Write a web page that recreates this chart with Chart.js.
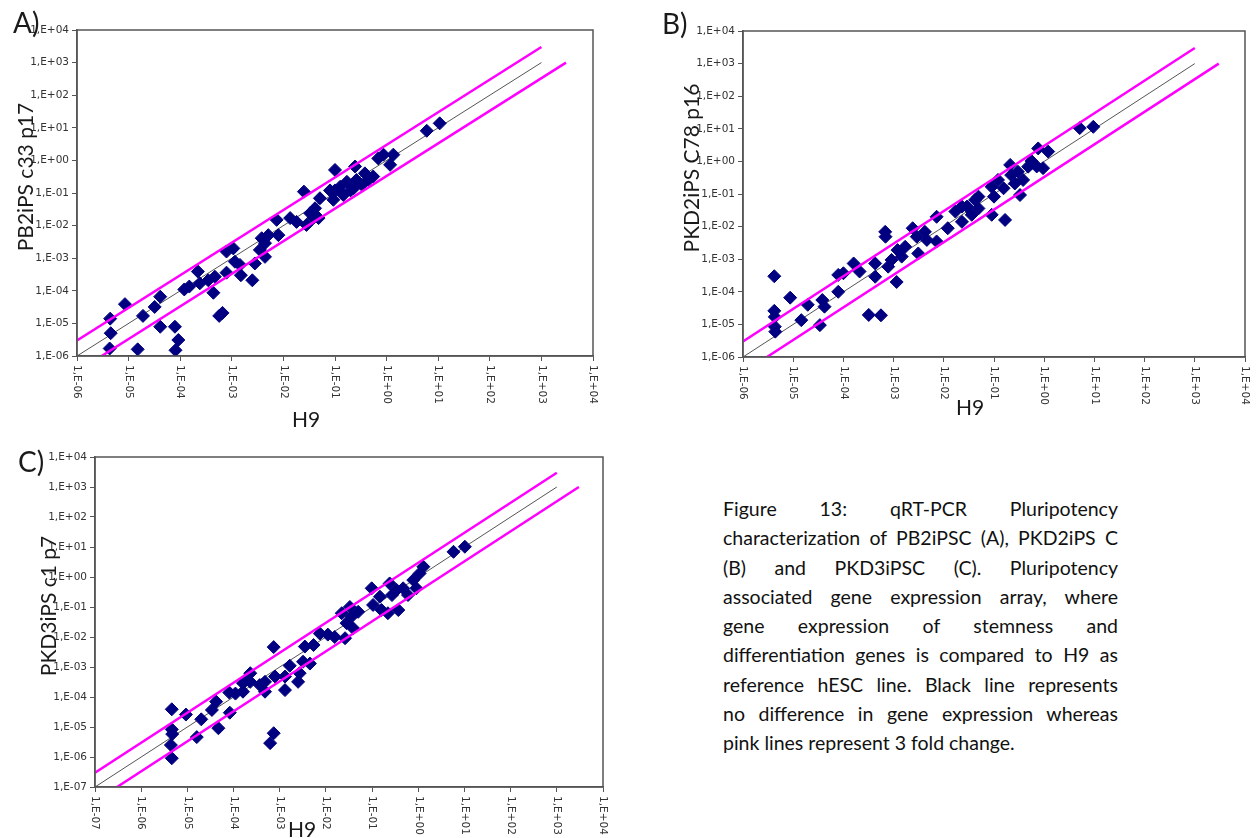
<!DOCTYPE html>
<html>
<head>
<meta charset="utf-8">
<script src="https://cdn.jsdelivr.net/npm/chart.js@4.4.1/dist/chart.umd.min.js"></script>
<style>
  body { margin: 0; background: #fff; width: 1256px; height: 838px; position: relative; overflow: hidden; }
  canvas { position: absolute; }
  #caption { position: absolute; left: 723px; top: 494px; width: 395px; font-family: Lato, sans-serif; font-size: 19.5px; line-height: 29.3px; color: #111; }
  #caption .ln { text-align: justify; text-align-last: justify; }
  #caption .ln.last { text-align: left; text-align-last: left; }
</style>
</head>
<body>
<canvas id="chartA" width="610" height="430" style="left:0;top:0"></canvas>
<canvas id="chartB" width="616" height="430" style="left:640px;top:0"></canvas>
<canvas id="chartC" width="620" height="408" style="left:0;top:430px"></canvas>
<div id="caption">
  <div class="ln">Figure 13: qRT-PCR Pluripotency</div>
  <div class="ln">characterization of PB2iPSC (A), PKD2iPS C</div>
  <div class="ln">(B) and PKD3iPSC (C). Pluripotency</div>
  <div class="ln">associated gene expression array, where</div>
  <div class="ln">gene expression of stemness and</div>
  <div class="ln">differentiation genes is compared to H9 as</div>
  <div class="ln">reference hESC line. Black line represents</div>
  <div class="ln">no difference in gene expression whereas</div>
  <div class="ln last">pink lines represent 3 fold change.</div>
</div>
<script>
// tick labels (Excel style), values parsed from them
const ticksAB = ["1,E-06", "1,E-05", "1,E-04", "1,E-03", "1,E-02", "1,E-01", "1,E+00", "1,E+01", "1,E+02", "1,E+03", "1,E+04"];
const ticksC = ["1,E-07", "1,E-06", "1,E-05", "1,E-04", "1,E-03", "1,E-02", "1,E-01", "1,E+00", "1,E+01", "1,E+02", "1,E+03", "1,E+04"];

const foldChange = 3;
const lineEnd = 1e3;

// A) H9 vs PB2iPS c33 p17
const h9A = [4.4e-6, 4.5e-6, 4.3e-6, 8.5e-6, 1.9e-5, 1.5e-5, 3.2e-5, 4.1e-5, 4.1e-5, 7.9e-5, 9.2e-5, 8.1e-5,
  1.2e-4, 1.5e-4, 2.2e-4, 2.4e-4, 3.5e-4, 4.7e-4, 4.4e-4, 6.6e-4, 5.7e-4, 7.9e-4, 7.9e-4, 1.07e-3, 1.15e-3,
  1.44e-3, 1.5e-3, 2.5e-3, 2.8e-3, 3.5e-3, 4.4e-3, 3.8e-3, 5.1e-3, 8e-3, 7.4e-3, 1.35e-2, 1.8e-2, 2.5e-2,
  2.8e-2, 3.3e-2, 3.8e-2, 4.1e-2, 5.1e-2, 4.8e-2, 9.3e-2, 0.1, 0.1, 0.126, 0.145, 0.17, 0.2, 0.245, 0.26,
  0.33, 0.38, 0.44, 0.55, 0.69, 0.87, 1.17, 1.35, 6.0, 10.7, 0.08, 0.23, 4.4e-3];
const ipsA = [1.4e-5, 5e-6, 1.7e-6, 3.9e-5, 1.7e-5, 1.6e-6, 3.2e-5, 6.6e-5, 7.9e-6, 7.9e-6, 3.1e-6, 1.5e-6,
  1.1e-4, 1.35e-4, 3.9e-4, 1.7e-4, 2.1e-4, 2.7e-4, 8.7e-5, 2.1e-5, 1.7e-5, 3.6e-4, 1.6e-3, 2e-3, 7.8e-4,
  6.2e-4, 3e-4, 2.1e-4, 6.9e-4, 1.8e-3, 1.1e-3, 4.1e-3, 5.1e-3, 5.1e-3, 1.5e-2, 1.7e-2, 1.3e-2, 0.11,
  1.05e-2, 2.4e-2, 1.7e-2, 3.4e-2, 6.9e-2, 1.7e-2, 6.2e-2, 0.12, 0.51, 0.155, 0.087, 0.22, 0.12, 0.65, 0.25,
  0.18, 0.40, 0.25, 0.32, 1.15, 1.5, 0.73, 1.5, 8.1, 13.7, 0.12, 0.14, 2.9e-3];

// B) H9 vs PKD2iPS C78 p16
const h9B = [4.2e-6, 4.2e-6, 4.3e-6, 4.3e-6, 4.4e-6, 8.7e-6, 1.45e-5, 1.95e-5, 3.4e-5, 3.8e-5, 4.2e-5, 7.9e-5,
  7.9e-5, 1e-4, 1.6e-4, 2.1e-4, 3.2e-4, 5.6e-4, 4.3e-4, 4.3e-4, 6.8e-4, 6.9e-4, 7.8e-4, 1.15e-3, 9.1e-4,
  1.2e-3, 1.7e-3, 1.45e-3, 2.4e-3, 2.9e-3, 3.1e-3, 4.2e-3, 4.6e-3, 7.2e-3, 7.2e-3, 1.2e-2, 1.7e-2, 2.3e-2,
  2.9e-2, 3.6e-2, 4.2e-2, 4.9e-2, 9e-2, 0.166, 9e-2, 0.1, 0.12, 0.155, 0.21, 0.22, 0.26, 0.3, 0.33, 0.38,
  0.56, 0.71, 0.76, 0.95, 1.2, 5.1, 9.5, 2.3e-2, 4.9e-2, 0.48];
const ipsB = [3e-4, 2.6e-5, 1.7e-5, 8.5e-6, 6e-6, 6.6e-5, 1.35e-5, 4e-5, 9.5e-6, 5.6e-5, 3.5e-5, 1e-4,
  3.3e-4, 3.7e-4, 7.4e-4, 4.2e-4, 1.95e-5, 1.9e-5, 2.9e-4, 7.4e-4, 6.9e-3, 4.9e-3, 5.9e-4, 2e-4, 9.5e-4,
  1.9e-3, 2.4e-3, 1.2e-3, 8.9e-3, 4.9e-3, 1.5e-3, 6.9e-3, 3.9e-3, 2e-2, 3.5e-3, 8.9e-3, 2.9e-2, 1.4e-2,
  4.1e-2, 2.3e-2, 6.6e-2, 3.6e-2, 2.3e-2, 1.6e-2, 0.166, 8.3e-2, 0.27, 0.15, 0.78, 0.38, 0.21, 0.48, 9.3e-2, 0.27,
  1.02, 0.7, 2.5, 0.62, 2.0, 10.5, 11.5, 4.1e-2, 8.3e-2, 0.69];

// C) H9 vs PKD3iPS c1 p7
const h9C = [4.6e-6, 4.6e-6, 4.7e-6, 4.4e-6, 4.6e-6, 9.3e-6, 1.6e-5, 2e-5, 3.4e-5, 4.2e-5, 4.7e-5, 8.3e-5,
  8.1e-5, 1.1e-4, 1.6e-4, 1.8e-4, 2.3e-4, 2.3e-4, 3.7e-4, 4.8e-4, 4.8e-4, 6.2e-4, 7.4e-4, 7.4e-4, 7.9e-4,
  1.3e-3, 1.3e-3, 1.65e-3, 2.5e-3, 2.7e-3, 3.2e-3, 3.5e-3, 4.5e-3, 5.4e-3, 7.4e-3, 1.1e-2, 1.55e-2, 2.2e-2,
  2.6e-2, 2.8e-2, 3.6e-2, 3.9e-2, 5e-2, 9.8e-2, 0.105, 0.148, 0.16, 0.22, 0.24, 0.27, 0.37, 0.34, 0.47,
  0.6, 0.78, 0.91, 1.07, 1.29, 5.8, 10.2, 3.3e-2, 1.6e-4];
const ipsC = [3.9e-5, 8.3e-6, 5.8e-6, 2.5e-6, 9.1e-7, 2.6e-5, 4.6e-6, 1.8e-5, 3.7e-5, 7e-5, 9.1e-6, 3e-5,
  1.4e-4, 1.3e-4, 1.5e-4, 3.7e-4, 6.2e-4, 3.2e-4, 2.5e-4, 1.5e-4, 3.2e-4, 2.9e-6, 6.2e-6, 4.6e-3, 4.8e-4,
  1.7e-4, 4.8e-4, 1.1e-3, 3.2e-4, 6.2e-4, 1.5e-3, 4.8e-3, 1.3e-3, 5.4e-3, 1.3e-2, 1.2e-2, 1.0e-2, 6.2e-2,
  9.1e-3, 2.9e-2, 4.8e-2, 1.95e-2, 6.9e-2, 0.42, 0.117, 0.22, 7.9e-2, 6.2e-2, 0.61, 0.25, 7.9e-2, 0.37, 0.42,
  0.25, 0.79, 0.42, 1.32, 2.2, 6.9, 10.2, 0.10, 2.9e-4];

function tickValue(label) {
  return parseFloat(label.replace(",E", "e"));
}

const panelDecor = {
  id: "panelDecor",
  afterDraw(chart, args, o) {
    const { ctx, chartArea: a, scales: { x, y } } = chart;
    ctx.save();
    ctx.strokeStyle = "#555";
    ctx.lineWidth = 1.5;
    ctx.strokeRect(a.left, a.top, a.right - a.left, a.bottom - a.top);

    // tick labels
    ctx.fillStyle = "#333";
    ctx.font = '10.5px "DejaVu Sans", sans-serif';
    ctx.textAlign = "right";
    ctx.textBaseline = "middle";
    o.ticks.forEach(t => ctx.fillText(t, a.left - 8, y.getPixelForValue(tickValue(t))));
    ctx.textAlign = "left";
    o.ticks.forEach(t => {
      ctx.save();
      ctx.translate(x.getPixelForValue(tickValue(t)), a.bottom + 9);
      ctx.rotate(Math.PI / 2);
      ctx.fillText(t, 0, 0);
      ctx.restore();
    });

    // titles
    ctx.fillStyle = "#1a1a1a";
    ctx.font = "21px Lato, sans-serif";
    ctx.textAlign = "center";
    ctx.fillText("H9", o.xTitle[0], o.xTitle[1]);
    ctx.save();
    ctx.translate(o.yTitle[0], o.yTitle[1]);
    ctx.rotate(-Math.PI / 2);
    ctx.fillText(o.yLabel, 0, 0);
    ctx.restore();

    ctx.font = "28px Lato, sans-serif";
    ctx.textAlign = "left";
    ctx.textBaseline = "alphabetic";
    ctx.fillText(o.letter, o.letterPos[0], o.letterPos[1]);
    ctx.restore();
  }
};

function makeChart(id, xs, ys, ticks, box, decor) {
  const canvas = document.getElementById(id);
  const lo = tickValue(ticks[0]);
  const hi = tickValue(ticks[ticks.length - 1]);
  const tickVals = ticks.map(tickValue);
  const axisBase = {
    type: "logarithmic",
    min: lo,
    max: hi,
    afterBuildTicks: s => { s.ticks = tickVals.map(v => ({ value: v })); },
    ticks: { display: false },
    grid: { drawOnChartArea: false, drawTicks: true, tickLength: 5, color: "#555", lineWidth: 1 },
    border: { display: true, color: "#555", width: 1.5 }
  };

  return new Chart(canvas, {
    type: "scatter",
    data: {
      datasets: [
        {
          label: "3 fold up",
          data: [{ x: lo, y: lo * foldChange }, { x: lineEnd, y: lineEnd * foldChange }],
          showLine: true, borderColor: "#ff00ff", borderWidth: 2.5, pointRadius: 0, order: 0
        },
        {
          label: "3 fold down",
          data: [{ x: lo * foldChange, y: lo }, { x: lineEnd * foldChange, y: lineEnd }],
          showLine: true, borderColor: "#ff00ff", borderWidth: 2.5, pointRadius: 0, order: 0
        },
        {
          label: "genes",
          data: xs.map((v, i) => ({ x: v, y: ys[i] })),
          pointStyle: "rectRot",
          pointRadius: 6.5,
          backgroundColor: "#000080",
          borderColor: "#000080",
          borderWidth: 1,
          order: 1
        },
        {
          label: "no change",
          data: [{ x: lo, y: lo }, { x: lineEnd, y: lineEnd }],
          showLine: true, borderColor: "#555", borderWidth: 1, pointRadius: 0, order: 2
        }
      ]
    },
    options: {
      responsive: false,
      animation: false,
      events: [],
      layout: { padding: { top: box.top, right: canvas.width - box.right, left: 0, bottom: 0 } },
      scales: {
        x: Object.assign({}, axisBase, { position: "bottom", afterFit: s => { s.height = canvas.height - box.bottom; } }),
        y: Object.assign({}, axisBase, { position: "left", afterFit: s => { s.width = box.left; } })
      },
      plugins: {
        legend: { display: false },
        tooltip: { enabled: false },
        panelDecor: Object.assign({ ticks: ticks }, decor)
      }
    },
    plugins: [panelDecor]
  });
}

document.fonts.load("21px Lato").then(function () {
  makeChart("chartA", h9A, ipsA, ticksAB,
    { left: 77, top: 30, right: 593, bottom: 356 },
    { letter: "A)", letterPos: [13, 33], yLabel: "PB2iPS c33 p17", yTitle: [26, 177], xTitle: [306, 420] });

  makeChart("chartB", h9B, ipsB, ticksAB,
    { left: 103, top: 31, right: 605, bottom: 357 },
    { letter: "B)", letterPos: [22, 34], yLabel: "PKD2iPS C78 p16", yTitle: [52, 168], xTitle: [330, 408] });

  makeChart("chartC", h9C, ipsC, ticksC,
    { left: 95, top: 27, right: 603, bottom: 357 },
    { letter: "C)", letterPos: [18, 42], yLabel: "PKD3iPS c1 p7", yTitle: [49, 176], xTitle: [302, 400] });
});
</script>
</body>
</html>
